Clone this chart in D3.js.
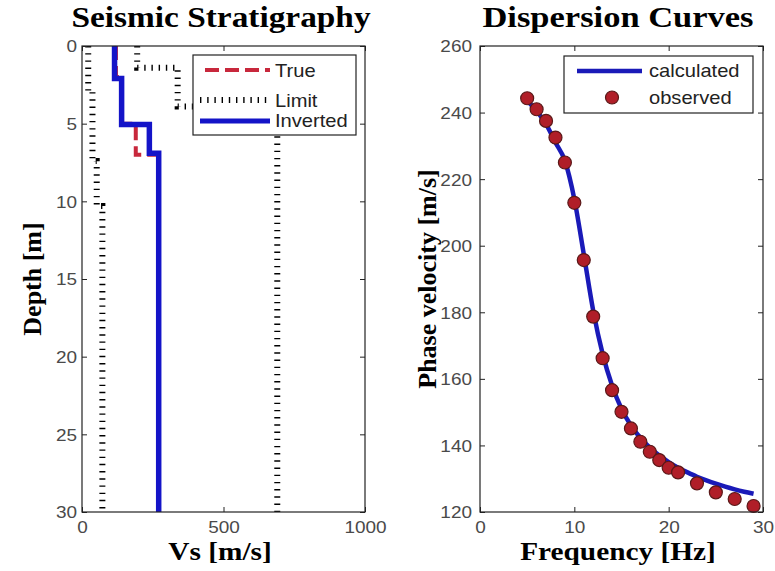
<!DOCTYPE html>
<html><head><meta charset="utf-8">
<script src="https://cdn.jsdelivr.net/npm/d3@7"></script>
<style>body{margin:0;background:#fff}</style>
</head><body><svg id="c" width="775" height="571"></svg>
<script>
// ---- data ----
const depthTicks = [0, 5, 10, 15, 20, 25, 30];
const vsTicks = [0, 500, 1000];
const trueDepths = [0, 2, 5, 7, 30];
const trueVs = [120, 138, 190, 272];
const invDepths = [0, 2.1, 5.05, 6.9, 30];
const invVs = [115, 140, 238, 271];
const lowLimitDepths = [0, 2.9, 7.4, 10.3, 30];
const lowLimitVs = [22, 37, 52, 72];
const upLimitDepths = [0, 1.4, 3.9, 30];
const upLimitVs = [195, 338, 690];

const freqTicks = [0, 10, 20, 30];
const velTicks = [120, 140, 160, 180, 200, 220, 240, 260];
const obsFreq = [5, 6, 7, 8, 9, 10, 11, 12, 13, 14, 15, 16, 17, 18, 19, 20, 21, 23, 25, 27, 29];
const obsVel = [244.3, 241, 237.5, 232.5, 225, 212.9, 195.7, 178.7, 166.2, 156.6, 150.1, 145.1, 141.1, 138.1, 135.6, 133.3, 131.9, 128.6, 125.9, 123.9, 121.8];
const calcFreq = [5, 6, 7, 8, 9, 10, 11, 12, 13, 14, 15, 16, 17, 18, 19, 20, 21, 22, 23, 24, 25, 26, 27, 28, 29];
const calcVel = [243.5, 240.5, 236.5, 231, 225.5, 214, 197.5, 180.5, 167.5, 158, 151, 146, 142.3, 139.3, 137, 135, 133.3, 131.9, 130.6, 129.5, 128.5, 127.6, 126.8, 126.1, 125.5];

// ---- setup ----
const SX = 1.15;
const svg = d3.select("#c");
const sans = "'Liberation Sans', Arial, sans-serif";
const serif = "'Liberation Serif', 'Times New Roman', serif";

function stext(x, y, str, size, family, weight, anchor, fill, rot) {
  return svg.append("text")
    .attr("transform", rot ? `translate(${x},${y}) rotate(-90)` : `translate(${x},${y}) scale(${SX},1)`)
    .attr("text-anchor", anchor || "middle")
    .style("font-family", family).style("font-size", size + "px")
    .style("font-weight", weight || "normal")
    .attr("fill", fill || "#000").text(str);
}

function styleAxis(g) {
  g.select(".domain").remove();
  g.selectAll(".tick line").attr("stroke", "#222").attr("stroke-width", 1);
  g.selectAll(".tick text")
    .style("font-family", sans).style("font-size", "16.5px").attr("fill", "#4a4a4a");
}

function drawAxes(x, y, xt, yt, ylabPad) {
  const [x0, x1] = x.range();
  const [yA, yB] = y.range();
  const yb = Math.max(yA, yB), ytop = Math.min(yA, yB);
  const fmt = d3.format("d");
  const gb = svg.append("g").attr("transform", `translate(0,${yb})`)
    .call(d3.axisBottom(x).tickValues(xt).tickFormat(fmt).tickSizeInner(-5).tickSizeOuter(0));
  styleAxis(gb);
  gb.selectAll(".tick text").attr("y", 21).attr("dy", 0).attr("transform", `scale(${SX},1)`);
  const gt = svg.append("g").attr("transform", `translate(0,${ytop})`)
    .call(d3.axisTop(x).tickValues(xt).tickSizeInner(-5).tickSizeOuter(0).tickFormat(""));
  styleAxis(gt);
  const gl = svg.append("g").attr("transform", `translate(${x0},0)`)
    .call(d3.axisLeft(y).tickValues(yt).tickFormat(fmt).tickSizeInner(-5).tickSizeOuter(0));
  styleAxis(gl);
  gl.selectAll(".tick text").attr("x", -ylabPad / SX).attr("dy", "0.36em").attr("transform", `scale(${SX},1)`);
  const gr = svg.append("g").attr("transform", `translate(${x1},0)`)
    .call(d3.axisRight(y).tickValues(yt).tickSizeInner(-5).tickSizeOuter(0).tickFormat(""));
  styleAxis(gr);
  svg.append("rect").attr("x", x0).attr("y", ytop).attr("width", x1 - x0).attr("height", yb - ytop)
    .attr("fill", "none").attr("stroke", "#222").attr("stroke-width", 1.2);
}

// ---- left panel ----
const xL = d3.scaleLinear().domain([0, 1000]).range([82, 365]);
const yL = d3.scaleLinear().domain([0, 30]).range([46, 512]);
svg.append("clipPath").attr("id", "clipL").append("rect").attr("x", 82).attr("y", 46).attr("width", 283).attr("height", 466);

function profile(depths, vs) {
  const pts = [];
  vs.forEach((v, i) => { pts.push([v, depths[i]]); pts.push([v, depths[i + 1]]); });
  return pts;
}
const lineL = d3.line().x(d => xL(d[0])).y(d => yL(d[1]));
const gL = svg.append("g").attr("clip-path", "url(#clipL)");
const dotted = { stroke: "#000", w: 6, dash: "1.4,5.8" };
[[lowLimitDepths, lowLimitVs], [upLimitDepths, upLimitVs]].forEach(([d, v]) => {
  gL.append("path").attr("d", lineL(profile(d, v))).attr("fill", "none")
    .attr("stroke", dotted.stroke).attr("stroke-width", dotted.w).attr("stroke-dasharray", dotted.dash);
});
gL.append("path").attr("d", lineL(profile(trueDepths, trueVs))).attr("fill", "none")
  .attr("stroke", "#c8283c").attr("stroke-width", 4).attr("stroke-dasharray", "14,6");
gL.append("path").attr("d", lineL(profile(invDepths, invVs))).attr("fill", "none")
  .attr("stroke", "#1414c8").attr("stroke-width", 5.5);

drawAxes(xL, yL, vsTicks, depthTicks, 5);

// left legend
svg.append("rect").attr("x", 193).attr("y", 55).attr("width", 163).attr("height", 80)
  .attr("fill", "#fff").attr("stroke", "#222").attr("stroke-width", 1.2);
svg.append("line").attr("x1", 205).attr("x2", 270).attr("y1", 70).attr("y2", 70)
  .attr("stroke", "#c8283c").attr("stroke-width", 4).attr("stroke-dasharray", "14,6");
svg.append("line").attr("x1", 200).attr("x2", 270).attr("y1", 100).attr("y2", 100)
  .attr("stroke", "#000").attr("stroke-width", dotted.w).attr("stroke-dasharray", dotted.dash);
svg.append("line").attr("x1", 200).attr("x2", 270).attr("y1", 121).attr("y2", 121)
  .attr("stroke", "#1414c8").attr("stroke-width", 5);
stext(275, 77, "True", 17.5, sans, "normal", "start", "#222");
stext(275, 107, "Limit", 17.5, sans, "normal", "start", "#222");
stext(275, 127, "Inverted", 17.5, sans, "normal", "start", "#222");

// ---- right panel ----
const xR = d3.scaleLinear().domain([0, 30]).range([480, 763]);
const yR = d3.scaleLinear().domain([120, 260]).range([512, 46]);
const gR = svg.append("g");
const calc = calcFreq.map((f, i) => [f, calcVel[i]]);
gR.append("path").attr("d", d3.line().x(d => xR(d[0])).y(d => yR(d[1])).curve(d3.curveMonotoneX)(calc))
  .attr("fill", "none").attr("stroke", "#1a1ab8").attr("stroke-width", 4.5);
gR.selectAll("circle.obs").data(obsFreq.map((f, i) => [f, obsVel[i]])).join("circle")
  .attr("class", "obs").attr("cx", d => xR(d[0])).attr("cy", d => yR(d[1])).attr("r", 6.5)
  .attr("fill", "#b01e28").attr("stroke", "#5a1818").attr("stroke-width", 1.2);

drawAxes(xR, yR, freqTicks, velTicks, 8);

// right legend
svg.append("rect").attr("x", 564).attr("y", 56).attr("width", 189).attr("height", 57)
  .attr("fill", "#fff").attr("stroke", "#222").attr("stroke-width", 1.2);
svg.append("line").attr("x1", 577).attr("x2", 642).attr("y1", 71).attr("y2", 71)
  .attr("stroke", "#1a1ab8").attr("stroke-width", 4.5);
svg.append("circle").attr("cx", 612).attr("cy", 97.5).attr("r", 6.5)
  .attr("fill", "#b01e28").attr("stroke", "#5a1818").attr("stroke-width", 1.2);
stext(649, 77, "calculated", 17.5, sans, "normal", "start", "#222");
stext(649, 104, "observed", 17.5, sans, "normal", "start", "#222");

// ---- titles and labels ----
stext(221, 27, "Seismic Stratigraphy", 29, serif, "bold", "middle", "#000");
stext(618, 27, "Dispersion Curves", 30, serif, "bold", "middle", "#000");
stext(220, 560, "Vs [m/s]", 25.5, serif, "bold", "middle", "#000");
stext(618, 560, "Frequency [Hz]", 25.5, serif, "bold", "middle", "#000");
stext(41, 279, "Depth [m]", 26, serif, "bold", "middle", "#000", true);
stext(436, 279, "Phase velocity [m/s]", 26, serif, "bold", "middle", "#000", true);
</script></body></html>
